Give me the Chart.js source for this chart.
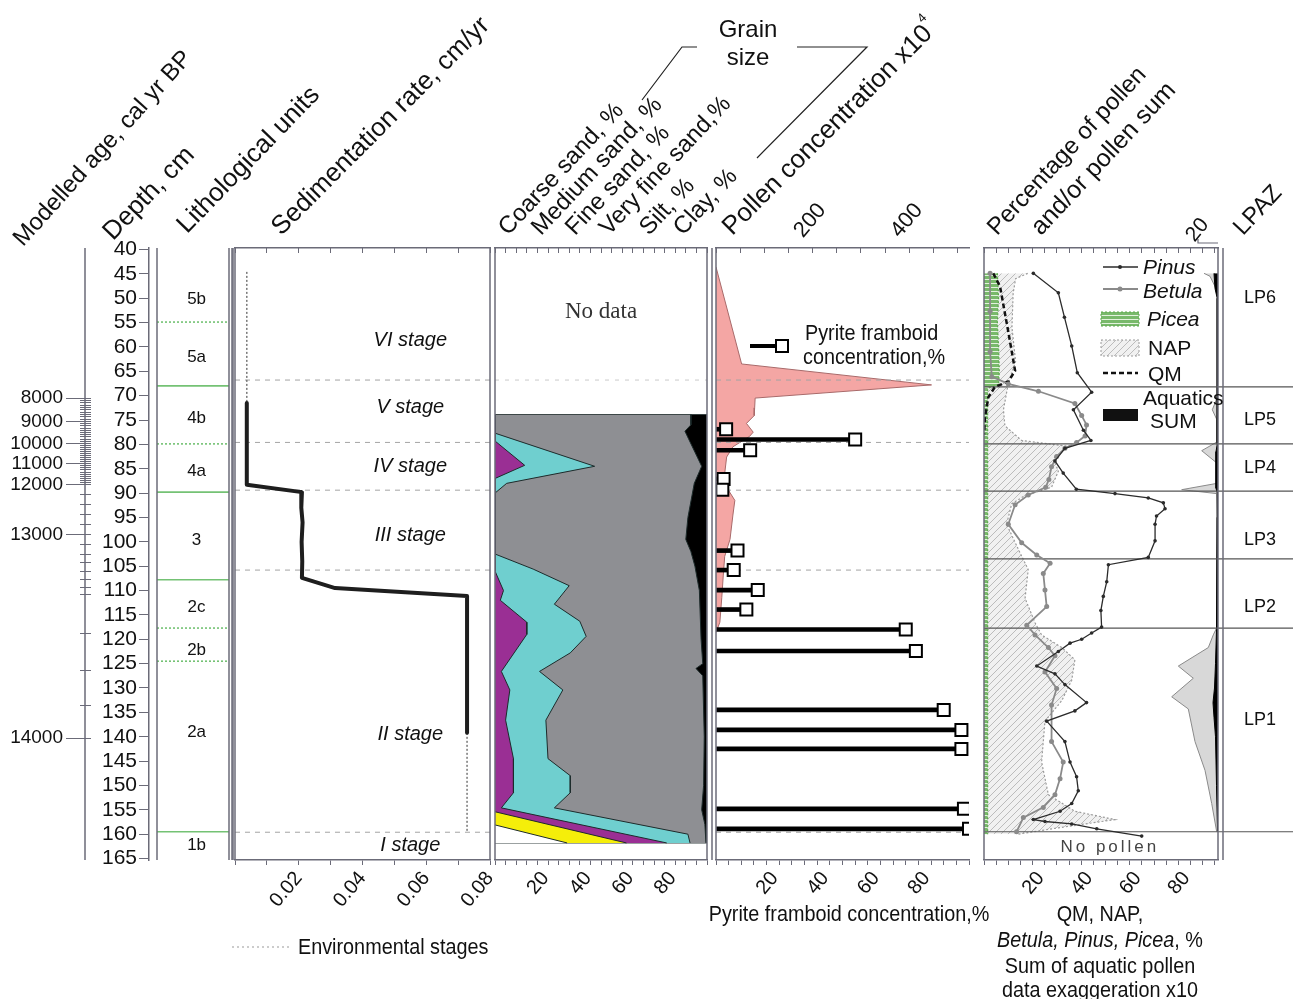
<!DOCTYPE html>
<html>
<head>
<meta charset="utf-8">
<title>Sediment core diagram</title>
<script src="https://cdn.jsdelivr.net/npm/chart.js@4.4.1/dist/chart.umd.min.js"></script>
<style>
  body { margin: 0; background: #fff; }
  #stage { position: relative; width: 1293px; height: 999px; overflow: hidden; font-family: "Liberation Sans", Arial, sans-serif; color: #111; }
  #stage canvas { position: absolute; top: 0; }
  .rot { position: absolute; white-space: nowrap; line-height: 1; font-size: 26px; transform-origin: 0 100%; transform: rotate(-45deg); }
  .rot sup { font-size: 13px; position: relative; top: -5px; vertical-align: top; }
  .lbl { position: absolute; white-space: nowrap; line-height: 1; }
  .narrow { font-size: 22px; transform: scaleX(0.9); transform-origin: 0 50%; }
  .narrow.ctr { transform: translateX(-50%) scaleX(0.9); transform-origin: 50% 50%; }
  .ctr { transform: translateX(-50%); text-align: center; }
  .leg { font-size: 21px; }
</style>
</head>
<body>
<div id="stage">
  <!-- column titles -->
  <div class="rot" style="left:26px;top:226px;font-size:24px;transform:rotate(-48deg)">Modelled age, cal yr BP</div>
  <div class="rot" style="left:116px;top:218px;transform:rotate(-46deg)">Depth, cm</div>
  <div class="rot" style="left:190px;top:211px;transform:rotate(-46deg)">Lithological units</div>
  <div class="rot" style="left:284px;top:213px">Sedimentation rate, cm/yr</div>
  <div class="rot" style="left:511px;top:215px;font-size:24px;transform:rotate(-47deg)">Coarse sand, %</div>
  <div class="rot" style="left:544px;top:215px;font-size:24px;transform:rotate(-47deg)">Medium sand, %</div>
  <div class="rot" style="left:578px;top:215px;font-size:24px;transform:rotate(-47deg)">Fine sand, %</div>
  <div class="rot" style="left:612px;top:215px;font-size:24px;transform:rotate(-47deg)">Very fine sand,%</div>
  <div class="rot" style="left:652px;top:215px;font-size:24px;transform:rotate(-47deg)">Silt, %</div>
  <div class="rot" style="left:686px;top:215px;font-size:24px;transform:rotate(-47deg)">Clay, %</div>
  <div class="rot" style="left:735px;top:213px">Pollen concentration x10<sup>4</sup></div>
  <div class="rot" style="left:1000px;top:215px;font-size:24px;transform:rotate(-47deg)">Percentage of pollen</div>
  <div class="rot" style="left:1044px;top:214px;font-size:25px;transform:rotate(-47deg)">and/or pollen sum</div>
  <div class="rot" style="left:1246px;top:215px;font-size:24px;transform:rotate(-47deg)">LPAZ</div>
  <div class="lbl ctr" style="left:748px;top:15px;font-size:24px;line-height:28px">Grain<br>size</div>

  <svg width="1293" height="999" style="position:absolute;left:0;top:0">
    <defs>
      <pattern id="napPat" width="7" height="7" patternUnits="userSpaceOnUse">
        <rect width="7" height="7" fill="#f1f1f1"/>
        <path d="M0,7 L7,0 M-1,1 L1,-1 M6,8 L8,6" stroke="#bcbcbc" stroke-width="1"/>
      </pattern>
      <pattern id="piceaPat" width="4" height="4" patternUnits="userSpaceOnUse">
        <rect width="4" height="4" fill="#79b96b"/>
        <rect y="3" width="4" height="1" fill="#e3f2de"/>
      </pattern>
    </defs>
    <!-- grain size brackets -->
    <polyline points="642,100 682,47 697,47" fill="none" stroke="#222" stroke-width="1.2"/>
    <polyline points="797,47 867,47 757,158" fill="none" stroke="#222" stroke-width="1.2"/>
    <!-- pyrite legend symbol -->
    <line x1="750" y1="346" x2="777" y2="346" stroke="#000" stroke-width="4"/>
    <rect x="776" y="340" width="12" height="12" fill="#fff" stroke="#000" stroke-width="2"/>
    <!-- pollen legend symbols -->
    <line x1="1103" y1="267" x2="1138" y2="267" stroke="#2b2b2b" stroke-width="1.3"/>
    <circle cx="1120" cy="267" r="2" fill="#2b2b2b"/>
    <line x1="1103" y1="289" x2="1138" y2="289" stroke="#8a8a8a" stroke-width="1.8"/>
    <circle cx="1120" cy="289" r="2.5" fill="#8a8a8a"/>
    <rect x="1101" y="312" width="38" height="14" fill="url(#piceaPat)" stroke="#5aa84a" stroke-dasharray="2,2"/>
    <rect x="1101" y="340" width="38" height="16" fill="url(#napPat)" stroke="#9b9b9b" stroke-dasharray="2,2"/>
    <line x1="1103" y1="373" x2="1138" y2="373" stroke="#111" stroke-width="2.5" stroke-dasharray="5,3"/>
    <rect x="1103" y="409" width="35" height="12" fill="#111"/>
    <!-- environmental stage legend -->
    <line x1="232" y1="947" x2="290" y2="947" stroke="#999" stroke-width="1" stroke-dasharray="2,3"/>
  </svg>

  <div class="lbl narrow" style="left:805px;top:322px">Pyrite framboid</div>
  <div class="lbl narrow" style="left:803px;top:346px">concentration,%</div>

  <div class="lbl leg" style="left:1143px;top:256px"><i>Pinus</i></div>
  <div class="lbl leg" style="left:1143px;top:280px"><i>Betula</i></div>
  <div class="lbl leg" style="left:1147px;top:308px"><i>Picea</i></div>
  <div class="lbl leg" style="left:1148px;top:337px">NAP</div>
  <div class="lbl leg" style="left:1148px;top:363px">QM</div>
  <div class="lbl leg" style="left:1143px;top:387px">Aquatics</div>
  <div class="lbl leg" style="left:1150px;top:410px">SUM</div>

  <div class="lbl narrow" style="left:298px;top:936px">Environmental stages</div>
  <div class="lbl narrow ctr" style="left:849px;top:903px">Pyrite framboid concentration,%</div>
  <div class="lbl narrow ctr" style="left:1100px;top:903px">QM, NAP,</div>
  <div class="lbl narrow ctr" style="left:1100px;top:929px"><i>Betula, Pinus, Picea</i>, %</div>
  <div class="lbl narrow ctr" style="left:1100px;top:955px">Sum of aquatic pollen</div>
  <div class="lbl narrow ctr" style="left:1100px;top:979px">data exaggeration x10</div>
</div>

<script>
// =========================================================
// DATA (depth in cm)
// =========================================================

const depthTicks = [40, 45, 50, 55, 60, 65, 70, 75, 80, 85, 90, 95, 100, 105, 110, 115, 120, 125, 130, 135, 140, 145, 150, 155, 160, 165];

// modelled age axis: labelled ages and the depth each one sits at
const ageLabels = [8000, 9000, 10000, 11000, 12000, 13000, 14000];
const ageLabelDepths = [70.5, 75.3, 79.8, 84.0, 88.2, 98.6, 140.3];
const ageSparseTickDepths = [90.2, 92.3, 94.4, 96.5, 100.6, 102.5, 104.3, 106.0, 107.7, 109.3, 110.9, 118.8, 126.4, 133.6];

// lithological units
const lithoUnits = ['5b', '5a', '4b', '4a', '3', '2c', '2b', '2a', '1b'];
const lithoLabelDepths = [50.2, 62.1, 74.6, 85.5, 99.6, 113.4, 122.2, 139.0, 162.3];
const lithoSolidDepths = [68.0, 89.8, 107.8, 159.5];
const lithoDottedDepths = [54.9, 79.9, 117.7, 124.5];

// environmental stages
const stageNames = ['VI stage', 'V stage', 'IV stage', 'III stage', 'II stage', 'I stage'];
const stageLabelDepths = [58.6, 72.5, 84.6, 98.6, 139.6, 162.3];
const stageBoundDepths = [66.8, 79.6, 89.4, 105.8, 159.6];

// sedimentation rate, cm/yr
const sedDepth = [71.5, 88.3, 89.8, 93.0, 96.0, 100.0, 104.0, 107.4, 109.5, 111.1, 139.2];
const sedRate = [0.0037, 0.0037, 0.0210, 0.0208, 0.0212, 0.0209, 0.0211, 0.0210, 0.0314, 0.0728, 0.0728];
const sedTopDepth = [44.6, 71.5];
const sedTopRate = [0.0037, 0.0037];
const sedBottomDepth = [139.2, 159.5];
const sedBottomRate = [0.0728, 0.0728];

// grain size: cumulative upper edge of each fraction, %
const coarseEdgeDepth = [158.1, 161.8];
const coarseEdge = [0, 34];
const mediumEdgeDepth = [155.4, 161.8];
const mediumEdge = [0, 62];
const fineEdgeDepth = [73.9, 79.3, 84.3, 87.0, 106.0, 110.0, 112.0, 116.5, 119.0, 126.6, 130.4, 136.6, 144.5, 151.5, 154.6, 161.8];
const fineEdge = [0, 0, 14, 0, 0, 4, 2.5, 15, 15, 3, 7, 5, 8.7, 8.7, 3, 81];
const veryFineEdgeDepth = [73.9, 77.7, 84.5, 88.0, 90.0, 102.5, 105.6, 109.0, 112.8, 116.3, 119.4, 122.8, 126.6, 130.4, 136.6, 144.5, 148.0, 151.5, 154.6, 160.0, 161.8];
const veryFineEdge = [0, 0, 47, 5.5, 0, 0, 18, 35, 28, 40, 43, 35.5, 21, 32, 24, 25, 35.5, 35.5, 28, 91, 92];
const siltEdgeDepth = [73.9, 76.0, 77.3, 79.5, 84.5, 88.0, 95.0, 99.5, 102.0, 105.0, 110.0, 120.0, 125.0, 126.0, 127.5, 140.0, 150.0, 155.0, 158.0, 161.8];
const siltEdge = [92.4, 92.4, 89.6, 92.0, 97.5, 94.0, 91.0, 90.0, 92.4, 94.3, 96.4, 97.2, 98.0, 94.8, 98.0, 98.7, 98.4, 97.5, 99.0, 99.5];
const clayEdgeDepth = [73.9, 161.8];
const clayEdge = [100, 100];

// pollen concentration x10^4
const pollenDepth = [43.6, 63.5, 67.8, 70.5, 72.5, 74.1, 75.7, 77.5, 78.4, 80.5, 82.6, 86.0, 88.5, 91.5, 94.5, 99.5, 103.0, 107.0, 111.4, 116.5, 118.6];
const pollenConc = [0, 53, 446, 81, 80, 79, 63, 77, 69, 35, 22, 18, 20, 39, 35, 29, 18, 15, 12, 8, 0];

// pyrite framboid concentration, %
const pyriteDepth = [76.9, 79.0, 81.2, 87.1, 89.3, 101.8, 105.8, 109.9, 113.9, 118.0, 122.4, 134.5, 138.6, 142.5, 154.8, 158.9];
const pyrite = [4, 55, 13.5, 3, 2.5, 8.5, 7, 16.5, 12, 75, 79, 90, 97, 97, 98, 100];

// pollen percentages
const pinusDepth = [44.9, 48.9, 53.9, 59.8, 65.3, 69.3, 72.9, 77.1, 79.2, 80.8, 83.4, 85.9, 89.2, 90.1, 91.0, 92.0, 93.2, 94.7, 96.4, 99.8, 103.2, 104.7, 108.2, 111.2, 114.1, 117.5, 118.7, 120.0, 120.8, 122.5, 125.5, 127.1, 129.3, 133.0, 134.7, 136.8, 141.0, 145.2, 148.2, 151.1, 153.7, 155.3, 157.0, 157.4, 157.9, 158.9, 160.4];
const pinus = [20.3, 30.6, 33.1, 36.1, 38.4, 44.3, 36.8, 40.9, 44.0, 33.3, 29.2, 32.6, 38.0, 53.9, 67.6, 73.8, 74.5, 71.0, 70.4, 70.4, 67.6, 51.2, 50.5, 49.1, 48.1, 48.4, 44.3, 40.2, 35.4, 30.6, 21.7, 29.2, 33.3, 42.2, 37.4, 25.8, 33.3, 35.4, 38.1, 38.8, 36.1, 31.3, 20.3, 25.1, 36.1, 46.4, 64.9];
const betulaDepth = [44.9, 52.7, 61.0, 66.1, 67.6, 69.1, 71.6, 74.1, 76.0, 78.3, 79.6, 80.8, 82.5, 84.6, 87.2, 88.8, 90.4, 92.4, 96.4, 100.2, 102.7, 104.4, 106.5, 109.9, 113.3, 117.1, 119.1, 121.7, 123.4, 126.7, 130.1, 133.5, 141.0, 145.2, 148.6, 151.9, 154.5, 156.6, 159.5];
const betula = [2.5, 2.5, 2.5, 3.2, 10, 22.4, 37.4, 40.2, 42.2, 41.6, 38.1, 33.3, 29.9, 27.8, 26.7, 25.4, 18.2, 12.8, 10.0, 15.5, 21.7, 27.2, 24.4, 25.1, 25.8, 17.6, 21.0, 26.5, 29.2, 25.1, 29.9, 27.8, 27.8, 32.6, 31.3, 29.2, 24.4, 16.2, 13.4];
const napDepth = [44.9, 46.0, 49.0, 56.0, 63.0, 67.5, 72.9, 76.2, 79.2, 80.4, 82.9, 85.5, 88.8, 90.5, 92.2, 96.4, 101.5, 105.7, 111.6, 116.6, 119.1, 121.7, 124.2, 128.4, 132.6, 136.8, 145.2, 151.9, 155.3, 157.0, 158.7, 160.0];
const nap = [18, 13, 12, 11.5, 13, 10, 8, 8.6, 15.5, 34.7, 28.5, 30.6, 27.8, 16.9, 11.4, 9.3, 14.1, 18.2, 16.9, 21, 23.7, 32, 37.4, 36.1, 32, 25.1, 23.7, 26.5, 37.4, 53.9, 30.6, 14];
const qmDepth = [44.9, 47.6, 56.9, 64.9, 67.1, 68.2, 70.3, 74.5, 78.0];
const qm = [3.8, 6.6, 10, 12.8, 10, 4.5, 1.8, 0.4, 0];
const piceaDepth = [44.9, 50, 55, 60, 65, 67.8, 68.5, 100, 130, 160];
const picea = [5.5, 6, 5.5, 6, 6.3, 6, 1.5, 1.5, 1.5, 1.5];

// aquatic pollen sum (black) and its x10 exaggeration (grey)
const aqSumDepth = [44.9, 48.0, 50.0, 80.0, 81.5, 89.0, 90.0, 118.0, 125.0, 130.0, 133.0, 136.0, 140.0, 150.0, 159.5];
const aqSum = [4, 3, 0.8, 0.8, 2, 2, 0.8, 1.5, 2.5, 3.5, 5, 4, 2.5, 1.5, 0.5];
const aqX10Depth = [44.9, 45.5, 48.0, 50.0, 70.0, 72.9, 75.0, 79.5, 81.3, 83.8, 88.0, 89.3, 90.1, 95.0, 117.5, 119.1, 121.7, 125.5, 128.0, 131.8, 134.3, 141.0, 146.9, 153.7, 159.5];
const aqX10 = [14, 8, 2, 0, 0, 5.7, 1, 1, 16.3, 1.3, 1, 36.3, 1.3, 0.5, 1, 4.7, 9.7, 39.7, 24.7, 46.3, 29.7, 23, 13, 6.3, 1.3];

// local pollen assemblage zones
const lpazNames = ['LP6', 'LP5', 'LP4', 'LP3', 'LP2', 'LP1'];
const lpazLabelDepths = [50.0, 75.0, 84.8, 99.6, 113.4, 136.6];
const lpazBoundDepths = [68.2, 79.9, 89.6, 103.5, 117.7, 159.5];

// =========================================================
// LAYOUT & HELPERS
// =========================================================

const DEPTH_MIN = 39.7, DEPTH_MAX = 165.3;
const PAGE_H = 999, AREA_TOP = 248, AREA_BOTTOM = 860;
const TOP_AXIS_H = 8, BOTTOM_AXIS_H = 60;
const AXIS = '#6b6b78';
const SANS = '"Liberation Sans", Arial, sans-serif';

Chart.defaults.font.family = SANS;
Chart.defaults.color = '#111';
Chart.defaults.elements.point.radius = 0;
Chart.defaults.elements.line.tension = 0;

const pts = (depths, values) => depths.map((d, i) => ({ x: values[i], y: d }));

function hLine(depth, x0, x1, style) {
    return Object.assign({ data: [{ x: x0, y: depth }, { x: x1, y: depth }], borderWidth: 1 }, style);
}

const ENV_STYLE = { borderColor: '#a4a4a4', borderDash: [5, 5], borderWidth: 1 };

// offset:false matters: a bar dataset would otherwise pad the depth axis
const depthScale = () => ({ type: 'linear', reverse: true, offset: false, min: DEPTH_MIN, max: DEPTH_MAX, display: false });

// top axes carry their tick marks inward, as in the source figure
function valueAxis(position, min, max, step, labels, opts) {
    opts = opts || {};
    const height = opts.height || (position === 'top' ? TOP_AXIS_H : BOTTOM_AXIS_H);
    const top = position === 'top';
    return {
        type: 'linear', axis: 'x', position, min, max,
        afterBuildTicks: s => {
            const t = [];
            for (let v = min; v <= max + 1e-9; v += step) t.push({ value: +v.toFixed(4) });
            s.ticks = t;
        },
        afterFit: s => {
            s.height = height;
            s.paddingLeft = 0;
            s.paddingRight = 0;
        },
        ticks: {
            display: !!labels, autoSkip: false, minRotation: 50, maxRotation: 50,
            padding: top ? 10 : 2,
            labelOffset: opts.labelOffset || 0,
            font: { size: opts.fontSize || 20 }, color: '#111',
            callback: v => (labels && labels.some(l => Math.abs(l - v) < 1e-9)) ? (opts.fmt ? opts.fmt(v) : String(v)) : ''
        },
        grid: { drawOnChartArea: false, tickLength: top ? -5 : 5, color: AXIS },
        border: { color: AXIS, width: 1.5 }
    };
}

// vertical frame lines at the panel edges
function frame(lines) {
    return {
        id: 'frame',
        afterDraw(chart) {
            const { ctx, chartArea: a } = chart;
            ctx.save();
            ctx.strokeStyle = AXIS;
            ctx.lineWidth = 1.5;
            lines.forEach(ln => {
                const x = (ln.side === 'left' ? a.left : a.right) + (ln.offset || 0);
                ctx.beginPath();
                ctx.moveTo(x, a.top);
                ctx.lineTo(x, a.bottom);
                ctx.stroke();
            });
            ctx.restore();
        }
    };
}

// text placed at data coordinates
function marks(items) {
    return {
        id: 'marks',
        afterDatasetsDraw(chart) {
            const ctx = chart.ctx;
            ctx.save();
            items.forEach(m => {
                const xs = chart.scales[m.xAxis || 'x'];
                ctx.font = m.font;
                ctx.fillStyle = m.color || '#111';
                ctx.textAlign = 'center';
                ctx.textBaseline = 'middle';
                ctx.letterSpacing = m.spacing || '0px';
                ctx.fillText(m.text, xs.getPixelForValue(m.x), chart.scales.y.getPixelForValue(m.y));
            });
            ctx.restore();
        }
    };
}

function addChart(box, config, topH, hasBottom) {
    const stage = document.getElementById('stage');
    const canvas = document.createElement('canvas');
    canvas.width = box.w;
    canvas.height = PAGE_H;
    canvas.style.left = box.x + 'px';
    stage.insertBefore(canvas, stage.firstChild);
    config.options = Object.assign({
        responsive: false, animation: false, events: [], indexAxis: 'y',
        plugins: { legend: { display: false }, tooltip: { enabled: false } }
    }, config.options);
    config.options.layout = {
        padding: {
            left: box.areaL - box.x - (box.yAxisW || 0),
            right: box.x + box.w - box.areaR,
            top: AREA_TOP - topH,
            bottom: PAGE_H - AREA_BOTTOM - (hasBottom ? BOTTOM_AXIS_H : 0)
        }
    };
    return new Chart(canvas, config);
}

function hatch(bg, fg, kind) {
    const tile = document.createElement('canvas');
    tile.width = tile.height = kind === 'diag' ? 7 : 4;
    const c = tile.getContext('2d');
    c.fillStyle = bg;
    c.fillRect(0, 0, tile.width, tile.height);
    if (kind === 'diag') {
        c.strokeStyle = fg;
        c.lineWidth = 1;
        c.beginPath();
        c.moveTo(0, 7); c.lineTo(7, 0);
        c.moveTo(-1, 1); c.lineTo(1, -1);
        c.moveTo(6, 8); c.lineTo(8, 6);
        c.stroke();
    } else {
        c.fillStyle = fg;
        c.fillRect(0, 3, 4, 1);
    }
    return c.createPattern(tile, 'repeat');
}

// =========================================================
// AGE AND DEPTH AXES
// =========================================================

function ageTickDepths() {
    const ticks = ageLabelDepths.slice();
    // dense 100-yr ticks between 8000 and 12000
    for (let i = 0; i < 4; i++) {
        for (let k = 1; k < 10; k++) {
            ticks.push(ageLabelDepths[i] + (ageLabelDepths[i + 1] - ageLabelDepths[i]) * k / 10);
        }
    }
    return ticks.concat(ageSparseTickDepths);
}
const isAgeLabel = v => ageLabelDepths.some(d => Math.abs(d - v) < 1e-6);

addChart({ x: 0, w: 95, areaL: 80, areaR: 91, yAxisW: 80 }, {
    type: 'line',
    data: { datasets: [{ data: [{ x: 5, y: DEPTH_MIN }, { x: 5, y: DEPTH_MAX }], borderColor: AXIS, borderWidth: 1.5 }] },
    options: {
        scales: {
            x: { type: 'linear', min: 0, max: 11, display: false },
            y: {
                type: 'linear', reverse: true, offset: false, min: DEPTH_MIN, max: DEPTH_MAX, position: 'left',
                afterBuildTicks: s => { s.ticks = ageTickDepths().map(v => ({ value: v })); },
                afterFit: s => { s.width = 80; s.paddingTop = 0; s.paddingBottom = 0; },
                ticks: {
                    autoSkip: false, font: { size: 19 }, padding: 3,
                    callback: v => {
                        const i = ageLabelDepths.findIndex(d => Math.abs(d - v) < 1e-6);
                        return i >= 0 ? String(ageLabels[i]) : '';
                    }
                },
                grid: {
                    drawOnChartArea: true, tickLength: 14, color: AXIS, lineWidth: 1,
                    tickColor: c => isAgeLabel(c.tick.value) ? AXIS : 'rgba(0,0,0,0)'
                },
                border: { display: false }
            }
        }
    }
}, 0, false);

addChart({ x: 70, w: 85, areaL: 149, areaR: 155, yAxisW: 79 }, {
    type: 'line',
    data: { datasets: [] },
    options: {
        scales: {
            x: { type: 'linear', min: 0, max: 1, display: false },
            y: {
                type: 'linear', reverse: true, offset: false, min: DEPTH_MIN, max: DEPTH_MAX, position: 'left',
                afterBuildTicks: s => { s.ticks = depthTicks.map(v => ({ value: v })); },
                afterFit: s => { s.width = 79; s.paddingTop = 0; s.paddingBottom = 0; },
                ticks: { autoSkip: false, font: { size: 21 }, padding: 2 },
                grid: { drawOnChartArea: false, tickLength: 10, color: AXIS },
                border: { color: AXIS, width: 1.5 }
            }
        }
    }
}, 0, false);

// =========================================================
// LITHOLOGY
// =========================================================

addChart({ x: 150, w: 90, areaL: 157, areaR: 229 }, {
    type: 'line',
    data: {
        datasets: [
            ...lithoSolidDepths.map(d => hLine(d, 0, 1, { borderColor: '#74c274', borderWidth: 1.6 })),
            ...lithoDottedDepths.map(d => hLine(d, 0, 1, { borderColor: '#74c274', borderWidth: 1.6, borderDash: [2, 2] }))
        ]
    },
    options: { scales: { x: { type: 'linear', min: 0, max: 1, display: false }, y: depthScale() } },
    plugins: [
        frame([{ side: 'left' }, { side: 'right' }, { side: 'right', offset: 4 }]),
        marks(lithoUnits.map((t, i) => ({ x: 0.55, y: lithoLabelDepths[i], text: t, font: '17px ' + SANS })))
    ]
}, 0, false);

// =========================================================
// SEDIMENTATION RATE
// =========================================================

addChart({ x: 200, w: 310, areaL: 235, areaR: 490 }, {
    type: 'line',
    data: {
        datasets: [
            { data: pts(sedDepth, sedRate), xAxisID: 'x', borderColor: '#1e1e1e', borderWidth: 4, borderJoinStyle: 'round' },
            { data: pts(sedTopDepth, sedTopRate), xAxisID: 'x', borderColor: '#777', borderWidth: 1.5, borderDash: [2, 2] },
            { data: pts(sedBottomDepth, sedBottomRate), xAxisID: 'x', borderColor: '#777', borderWidth: 1.5, borderDash: [2, 2] },
            ...stageBoundDepths.map(d => hLine(d, 0, 0.08, Object.assign({ xAxisID: 'x' }, ENV_STYLE)))
        ]
    },
    options: {
        scales: {
            x: valueAxis('bottom', 0, 0.08, 0.01, [0.02, 0.04, 0.06, 0.08], { fmt: v => v.toFixed(2) }),
            xt: valueAxis('top', 0, 0.08, 0.01, null),
            y: depthScale()
        }
    },
    plugins: [
        frame([{ side: 'left' }, { side: 'left', offset: -3 }, { side: 'right' }]),
        marks(stageNames.map((t, i) => ({ x: 0.055, y: stageLabelDepths[i], text: t, font: 'italic 20px ' + SANS })))
    ]
}, TOP_AXIS_H, true);

// =========================================================
// GRAIN SIZE
// =========================================================

const edge = '#1d2b2b';
addChart({ x: 470, w: 260, areaL: 495, areaR: 707 }, {
    type: 'line',
    data: {
        datasets: [
            { label: 'Coarse sand', data: pts(coarseEdgeDepth, coarseEdge), fill: 'origin', backgroundColor: '#ffffff', borderColor: edge, borderWidth: 1 },
            { label: 'Medium sand', data: pts(mediumEdgeDepth, mediumEdge), fill: 'origin', backgroundColor: '#f5ee0a', borderColor: edge, borderWidth: 1 },
            { label: 'Fine sand', data: pts(fineEdgeDepth, fineEdge), fill: 'origin', backgroundColor: '#9a2f94', borderColor: edge, borderWidth: 1 },
            { label: 'Very fine sand', data: pts(veryFineEdgeDepth, veryFineEdge), fill: 'origin', backgroundColor: '#6fcfcf', borderColor: edge, borderWidth: 1 },
            { label: 'Silt', data: pts(siltEdgeDepth, siltEdge), fill: 'origin', backgroundColor: '#8e8f93', borderColor: edge, borderWidth: 1 },
            { label: 'Clay', data: pts(clayEdgeDepth, clayEdge), fill: 'origin', backgroundColor: '#000000', borderColor: edge, borderWidth: 1 },
            hLine(clayEdgeDepth[0], 0, 100, { borderColor: edge }),
            hLine(clayEdgeDepth[1], 0, 100, { borderColor: edge }),
            ...stageBoundDepths.map(d => hLine(d, 0, 100, { borderColor: 'rgba(190,190,190,0.8)', borderDash: [4, 6], borderWidth: 1 }))
        ]
    },
    options: {
        scales: {
            x: valueAxis('bottom', 0, 100, 5, [20, 40, 60, 80], { labelOffset: 8 }),
            xt: valueAxis('top', 0, 100, 5, null),
            y: depthScale()
        }
    },
    plugins: [
        frame([{ side: 'left' }, { side: 'right' }]),
        marks([{ x: 50, y: 52.8, text: 'No data', font: '23px "Liberation Serif", "Times New Roman", serif', color: '#333' }])
    ]
}, TOP_AXIS_H, true);

// =========================================================
// POLLEN CONCENTRATION & PYRITE
// =========================================================

const POLLEN_TOP_H = 60;
addChart({ x: 690, w: 300, areaL: 716, areaR: 969 }, {
    type: 'line',
    data: {
        datasets: [
            { data: pts(pyriteDepth, pyrite), xAxisID: 'x', showLine: false, pointStyle: 'rect', pointRadius: 8.5,
              pointBackgroundColor: '#fff', pointBorderColor: '#000', pointBorderWidth: 2 },
            { type: 'bar', data: pts(pyriteDepth, pyrite), xAxisID: 'x', backgroundColor: '#000', barThickness: 4 },
            ...stageBoundDepths.map(d => hLine(d, 0, 100, Object.assign({ xAxisID: 'x' }, ENV_STYLE))),
            { data: pts(pollenDepth, pollenConc), xAxisID: 'xTop', fill: 'origin', backgroundColor: '#f4a6a4', borderColor: '#a86a6a', borderWidth: 1 }
        ]
    },
    options: {
        scales: {
            x: valueAxis('bottom', 0, 100, 5, [20, 40, 60, 80], { labelOffset: 8 }),
            xTop: valueAxis('top', 0, 523.5, 50, [200, 400], { height: POLLEN_TOP_H, labelOffset: 6, fontSize: 22 }),
            y: depthScale()
        }
    },
    plugins: [frame([{ side: 'left' }, { side: 'left', offset: -4 }])]
}, POLLEN_TOP_H, true);

// =========================================================
// POLLEN PERCENTAGES & AQUATICS
// =========================================================

const napPattern = hatch('#f1f1f1', '#bcbcbc', 'diag');
const piceaPattern = hatch('#79b96b', '#e3f2de', 'rows');

const aqBracket = {
    id: 'aqBracket',
    afterDraw(chart) {
        const { ctx } = chart;
        const s = chart.scales.xAq;
        const x0 = s.getPixelForValue(0), x20 = s.getPixelForValue(20), y = AREA_TOP - 5;
        ctx.save();
        ctx.strokeStyle = AXIS;
        ctx.lineWidth = 1.2;
        ctx.beginPath();
        ctx.moveTo(x20, y - 4); ctx.lineTo(x20, y); ctx.lineTo(x0, y);
        ctx.stroke();
        ctx.translate(x20 - 8, y - 4);
        ctx.rotate(-50 * Math.PI / 180);
        ctx.font = '21px ' + SANS;
        ctx.fillStyle = '#111';
        ctx.textBaseline = 'middle';
        ctx.fillText('20', 0, 0);
        ctx.restore();
    }
};

addChart({ x: 960, w: 275, areaL: 984, areaR: 1218 }, {
    type: 'line',
    data: {
        datasets: [
            { label: 'Pinus', data: pts(pinusDepth, pinus), xAxisID: 'x', borderColor: '#2b2b2b', borderWidth: 1.3,
              pointRadius: 1.8, pointBackgroundColor: '#2b2b2b', pointBorderWidth: 0 },
            { label: 'Betula', data: pts(betulaDepth, betula), xAxisID: 'x', borderColor: '#8a8a8a', borderWidth: 1.8,
              pointRadius: 2.5, pointBackgroundColor: '#8a8a8a', pointBorderWidth: 0 },
            { label: 'QM', data: pts(qmDepth, qm), xAxisID: 'x', borderColor: '#111', borderWidth: 2.5, borderDash: [5, 3] },
            ...lpazBoundDepths.map(d => hLine(d, 0, 96.3, { xAxisID: 'x', borderColor: '#555', borderWidth: 1.2 })),
            { label: 'Aquatics SUM', data: pts(aqSumDepth, aqSum), xAxisID: 'xAq', fill: 'origin', backgroundColor: '#000', borderColor: '#000', borderWidth: 1 },
            { label: 'Aquatics x10', data: pts(aqX10Depth, aqX10), xAxisID: 'xAq', fill: 'origin', backgroundColor: '#d8d8d8', borderColor: '#8a8a8a', borderWidth: 1 },
            { label: 'Picea', data: pts(piceaDepth, picea), xAxisID: 'x', fill: 'origin', backgroundColor: piceaPattern,
              borderColor: '#5aa84a', borderWidth: 1.2, borderDash: [2, 2] },
            { label: 'NAP', data: pts(napDepth, nap), xAxisID: 'x', fill: 'origin', backgroundColor: napPattern,
              borderColor: '#9b9b9b', borderWidth: 1.2, borderDash: [2, 2] }
        ]
    },
    options: {
        scales: {
            x: valueAxis('bottom', 0, 96.3, 5, [20, 40, 60, 80], { labelOffset: 8 }),
            xt: valueAxis('top', 0, 96.3, 5, null),
            xAq: { type: 'linear', axis: 'x', reverse: true, min: 0, max: 234, display: false },
            y: depthScale()
        }
    },
    plugins: [
        frame([{ side: 'left' }, { side: 'right' }, { side: 'right', offset: 5 }]),
        marks([{ x: 51.8, y: 162.7, text: 'No pollen', font: '17px ' + SANS, color: '#444', spacing: '3px' }]),
        aqBracket
    ]
}, TOP_AXIS_H, true);

// =========================================================
// LPAZ COLUMN
// =========================================================

addChart({ x: 1210, w: 83, areaL: 1218, areaR: 1293 }, {
    type: 'line',
    data: { datasets: lpazBoundDepths.map(d => hLine(d, 0, 1, { borderColor: '#555', borderWidth: 1.2 })) },
    options: { scales: { x: { type: 'linear', min: 0, max: 1, display: false }, y: depthScale() } },
    plugins: [marks(lpazNames.map((t, i) => ({ x: 0.56, y: lpazLabelDepths[i], text: t, font: '18px ' + SANS })))]
}, 0, false);
</script>
</body>
</html>
